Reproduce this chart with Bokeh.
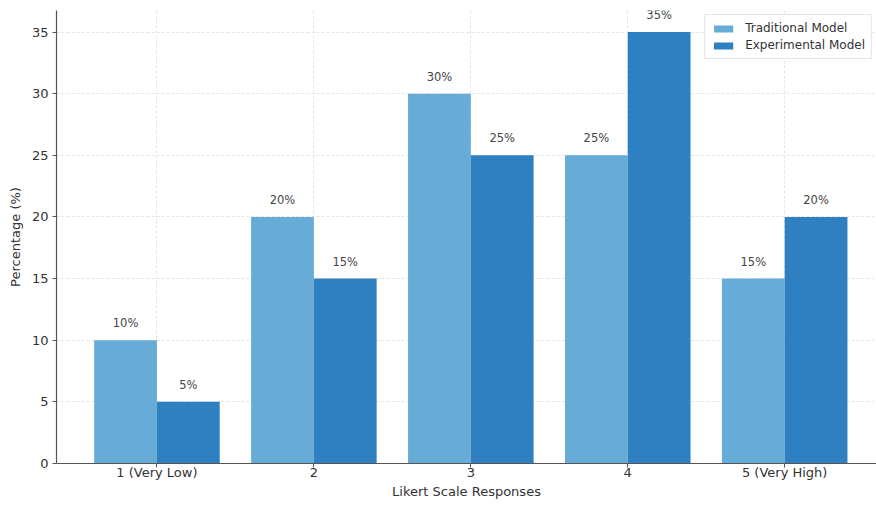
from bokeh.plotting import figure
from bokeh.models import ColumnDataSource, Range1d, Legend, LegendItem, FixedTicker, LabelSet
from bokeh.core.properties import value
from bokeh.embed import file_html
from bokeh.resources import INLINE

# Survey results: share of responses per Likert level
categories = ["1 (Very Low)", "2", "3", "4", "5 (Very High)"]
traditional = [10, 20, 30, 25, 15]
experimental = [5, 15, 25, 35, 20]
y_ticks = [0, 5, 10, 15, 20, 25, 30, 35]

FONT = "DejaVu Sans"
LIGHT = "#67acd6"
DARK = "#2e80c0"
bar_w = 0.4

pos = list(range(len(categories)))
src_t = ColumnDataSource(dict(
    x=[i - bar_w / 2 for i in pos], top=traditional,
    ly=[v + 0.8 for v in traditional], txt=[f"{v}%" for v in traditional]))
src_e = ColumnDataSource(dict(
    x=[i + bar_w / 2 for i in pos], top=experimental,
    ly=[v + 0.8 for v in experimental], txt=[f"{v}%" for v in experimental]))

p = figure(width=876, height=507, output_backend="svg", toolbar_location=None,
           x_range=Range1d(-0.64, 4.585), y_range=Range1d(0, 36.75),
           min_border_left=56, min_border_right=0, min_border_top=10, min_border_bottom=44)
p.outline_line_color = None
p.background_fill_color = "white"

r_t = p.vbar(x="x", top="top", width=bar_w, source=src_t, fill_color=LIGHT, line_color=None)
r_e = p.vbar(x="x", top="top", width=bar_w, source=src_e, fill_color=DARK, line_color=None)

for src in (src_t, src_e):
    p.add_layout(LabelSet(x="x", y="ly", text="txt", source=src, text_align="center",
                          text_baseline="bottom", text_font=value(FONT), text_font_size="11.5px",
                          text_color="#444444"))

# axes
p.xaxis.ticker = FixedTicker(ticks=pos)
p.xaxis.major_label_overrides = {i: c for i, c in enumerate(categories)}
p.yaxis.ticker = FixedTicker(ticks=y_ticks)
for ax in (p.xaxis[0], p.yaxis[0]):
    ax.major_label_text_font = FONT
    ax.major_label_text_font_size = "13px"
    ax.major_label_text_color = "#333333"
    ax.axis_label_text_font = FONT
    ax.axis_label_text_font_size = "13px"
    ax.axis_label_text_font_style = "normal"
    ax.axis_label_text_color = "#333333"
    ax.axis_line_color = "#555555"
    ax.axis_line_width = 1.2
    ax.major_tick_line_color = "#555555"
    ax.major_tick_out = 4
    ax.major_tick_in = 0
    ax.minor_tick_line_color = None
p.xaxis.axis_label = "Likert Scale Responses"
p.yaxis.axis_label = "Percentage (%)"
p.xaxis.major_label_standoff = -3
p.xaxis.axis_label_standoff = 1
p.yaxis.major_label_standoff = 4
p.yaxis.axis_label_standoff = 6

# dashed grid
for g in (p.xgrid[0], p.ygrid[0]):
    g.grid_line_color = "#dedede"
    g.grid_line_dash = "3 2"
    g.grid_line_width = 0.8
p.xgrid.level = "underlay"
p.ygrid.level = "underlay"

legend = Legend(items=[LegendItem(label="Traditional Model", renderers=[r_t]),
                       LegendItem(label="Experimental Model", renderers=[r_e])],
                location="top_right", label_text_font=FONT, label_text_font_size="12px",
                label_text_color="#333333", glyph_width=24, glyph_height=9,
                label_height=13, spacing=3, padding=6, margin=4,
                border_line_color="#cccccc", border_line_width=1,
                background_fill_alpha=0.9, label_standoff=10)
p.add_layout(legend)

open("out.html", "w").write(file_html(p, INLINE))
